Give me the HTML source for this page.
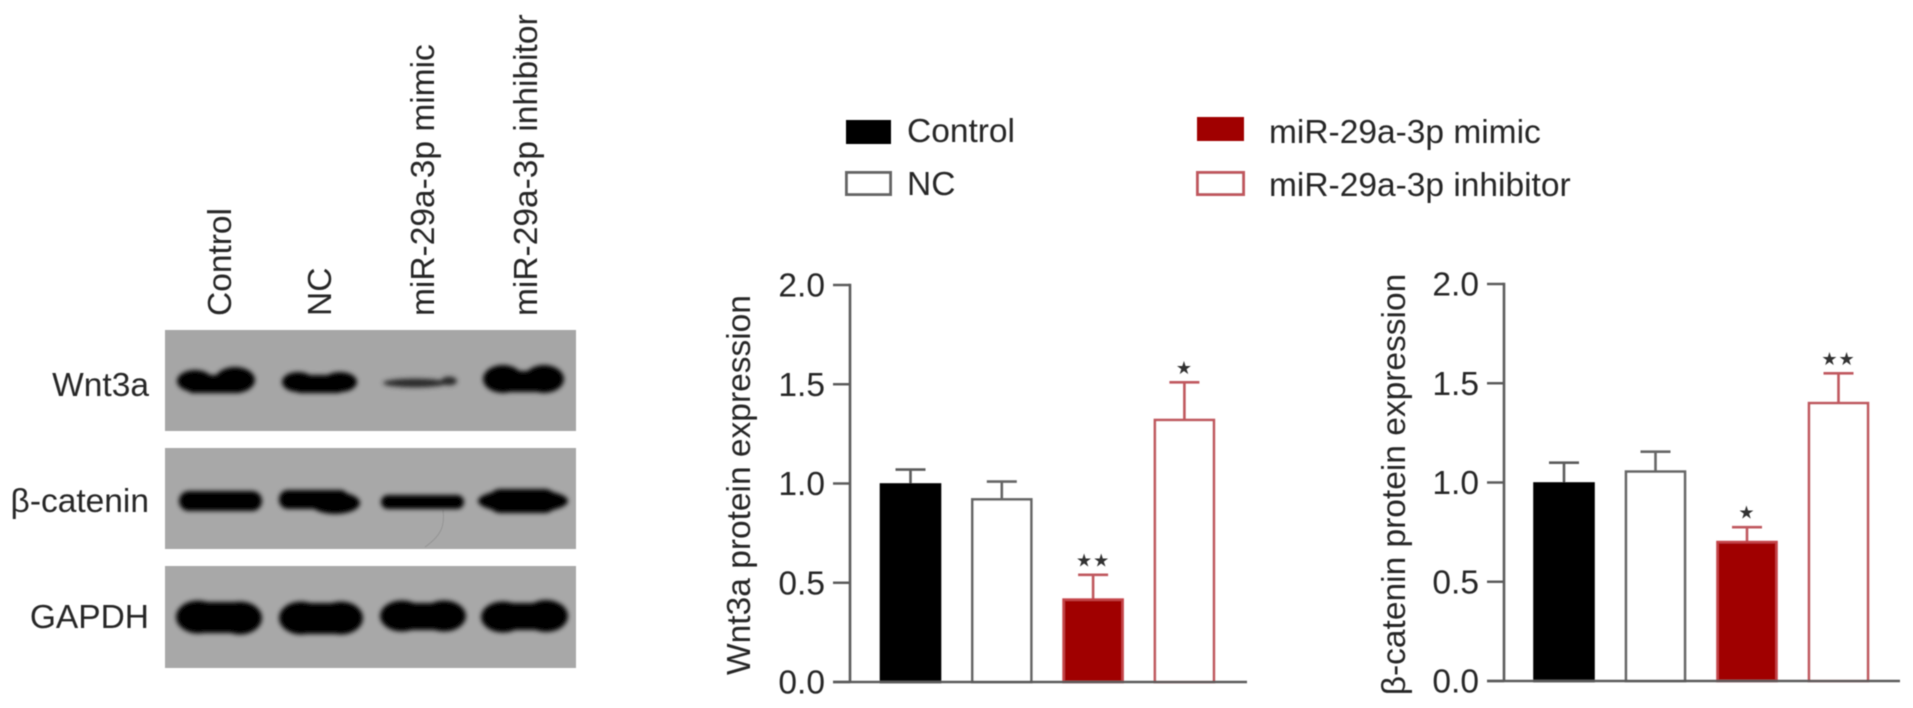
<!DOCTYPE html>
<html lang="en">
<head>
<meta charset="utf-8">
<title>Wnt3a and β-catenin protein expression</title>
<style>
  html, body { margin: 0; padding: 0; background: #fff; }
  svg { display: block; }
  text { font-family: "Liberation Sans", "DejaVu Sans", sans-serif; font-size: 33.5px; fill: #262626; }
</style>
</head>
<body>
<svg id="figure" width="1913" height="708" viewBox="0 0 1913 708" xmlns="http://www.w3.org/2000/svg">
  <defs>
    <filter id="soft" x="-5%" y="-5%" width="110%" height="110%"><feGaussianBlur stdDeviation="0.6"/></filter>
    <filter id="bandBlur" x="-20%" y="-50%" width="140%" height="200%"><feGaussianBlur stdDeviation="2.4"/></filter>
  </defs>
  <g id="root" filter="url(#soft)">
    <g>
      <text transform="translate(231 316) rotate(-90)">Control</text>
      <text transform="translate(331 316) rotate(-90)">NC</text>
      <text transform="translate(434 316) rotate(-90)">miR-29a-3p mimic</text>
      <text transform="translate(537 316) rotate(-90)">miR-29a-3p inhibitor</text>
    </g>
    <text x="149" y="396" text-anchor="end">Wnt3a</text>
    <text x="149" y="512" text-anchor="end">β-catenin</text>
    <text x="149" y="628" text-anchor="end">GAPDH</text>

    <rect x="165" y="330" width="411" height="101" fill="#a6a6a6"/>
    <rect x="165" y="448" width="411" height="101" fill="#a8a8a8"/>
    <rect x="165" y="566" width="411" height="102" fill="#a8a8a8"/>
    <path d="M443 510 C445 525 442 535 425 547" fill="none" stroke="#949494" stroke-width="1"/>

    <g fill="#050505" filter="url(#bandBlur)">
      <g><ellipse cx="195" cy="381" rx="18" ry="11"/><ellipse cx="235" cy="380" rx="20" ry="13"/><rect x="190" y="375" width="50" height="18"/></g>
      <g><ellipse cx="298" cy="382" rx="16" ry="10"/><ellipse cx="340" cy="382" rx="17" ry="10"/><rect x="298" y="375" width="42" height="18"/></g>
      <g fill="#2c2c2c"><ellipse cx="415" cy="383" rx="32" ry="4.5"/><ellipse cx="449" cy="381" rx="8" ry="4.5"/></g>
      <g><ellipse cx="503" cy="379" rx="20" ry="14"/><ellipse cx="544" cy="379" rx="20" ry="14"/><rect x="503" y="371" width="41" height="21"/></g>

      <rect x="179" y="491" width="83" height="20" rx="10"/>
      <g><rect x="279" y="490" width="70" height="19" rx="9"/><ellipse cx="335" cy="503" rx="25" ry="11"/></g>
      <rect x="381" y="495" width="83" height="14" rx="7"/>
      <g><ellipse cx="523" cy="501" rx="45" ry="12"/><rect x="489" y="489" width="67" height="24" rx="11"/></g>

      <g><ellipse cx="198" cy="617" rx="22" ry="16.5"/><ellipse cx="240" cy="618" rx="22" ry="16.5"/><rect x="198" y="602" width="42" height="31"/></g>
      <g><ellipse cx="301" cy="618" rx="22" ry="16.5"/><ellipse cx="341" cy="618" rx="22" ry="16.5"/><rect x="301" y="603" width="40" height="31"/></g>
      <g><ellipse cx="402" cy="616" rx="22" ry="15.5"/><ellipse cx="444" cy="616" rx="22" ry="15.5"/><rect x="402" y="603" width="42" height="27"/></g>
      <g><ellipse cx="503" cy="617" rx="22" ry="15.5"/><ellipse cx="546" cy="616" rx="22" ry="16"/><rect x="503" y="603" width="43" height="27"/></g>
    </g>

    <g>
      <rect x="846" y="120" width="45" height="24" fill="#000"/>
      <text x="907" y="142">Control</text>
      <rect x="846.5" y="172.5" width="44" height="22" fill="#fff" stroke="#666" stroke-width="3"/>
      <text x="907" y="195">NC</text>
      <rect x="1197" y="117" width="47" height="24" fill="#a00000"/>
      <text x="1269" y="143">miR-29a-3p mimic</text>
      <rect x="1197.5" y="172.5" width="46" height="22" fill="#fff" stroke="#c0585e" stroke-width="3"/>
      <text x="1269" y="196">miR-29a-3p inhibitor</text>
    </g>
    <g id="charts"></g>
  </g>
</svg>
<script>
const groups = ['Control', 'NC', 'miR-29a-3p mimic', 'miR-29a-3p inhibitor'];
const yTicks = [0, 0.5, 1, 1.5, 2];
const yTickLabels = ['0.0', '0.5', '1.0', '1.5', '2.0'];
const wntMeans = [0.995, 0.92, 0.415, 1.32];
const wntErrors = [0.075, 0.09, 0.125, 0.19];
const wntSignificance = ['', '', '**', '*'];
const betaMeans = [0.995, 1.055, 0.70, 1.40];
const betaErrors = [0.105, 0.10, 0.075, 0.15];
const betaSignificance = ['', '', '*', '**'];

const NS = 'http://www.w3.org/2000/svg';
const host = document.getElementById('charts');

function make(parent, tag, attrs, text) {
  const el = document.createElementNS(NS, tag);
  for (const k in attrs) el.setAttribute(k, attrs[k]);
  if (text !== undefined) el.textContent = text;
  parent.appendChild(el);
  return el;
}

const barStyles = [
  { fill: '#000000', stroke: '#000000', err: '#5c5c5c' },
  { fill: '#ffffff', stroke: '#666666', err: '#666666' },
  { fill: '#a00000', stroke: '#c4454a', err: '#c0585e' },
  { fill: '#ffffff', stroke: '#c0585e', err: '#c0585e' }
];

function drawChart(cfg) {
  const g = make(host, 'g', {});
  
  

  const y = v => cfg.y0 + (cfg.y2 - cfg.y0) * (v / 2);
  const x = i => cfg.x0 + cfg.step * i;
  const axis = '#5c5c5c';
  const barHalf = 29.5;
  const capHalf = 15;

  const title = make(g, 'text', { transform: 'translate(' + cfg.titleX + ' ' + cfg.titleY + ') rotate(-90)', 'text-anchor': 'middle' }, cfg.title);
  
  

  yTicks.forEach((t, i) => {
    const tick = make(g, 'line', { x1: cfg.axisX - 17, x2: cfg.axisX, y1: y(t), y2: y(t), stroke: axis, 'stroke-width': 2.6 });
    
    
    const label = make(g, 'text', { x: cfg.axisX - 25, y: y(t) + 11.5, 'text-anchor': 'end' }, yTickLabels[i]);
    
    
  });

  const yAxis = make(g, 'line', { x1: cfg.axisX, x2: cfg.axisX, y1: y(2) - 1.3, y2: y(0), stroke: axis, 'stroke-width': 2.6 });
  
  

  groups.forEach((name, i) => {
    const s = barStyles[i];
    const cx = x(i);
    const top = y(cfg.means[i]);
    const errTop = y(cfg.means[i] + cfg.errors[i]);

    const stem = make(g, 'line', { x1: cx, x2: cx, y1: top, y2: errTop, stroke: s.err, 'stroke-width': 2.6 });
    
    
    const cap = make(g, 'line', { x1: cx - capHalf, x2: cx + capHalf, y1: errTop, y2: errTop, stroke: s.err, 'stroke-width': 2.6 });
    
    

    const bar = make(g, 'rect', { x: cx - barHalf, y: top, width: barHalf * 2, height: y(0) - top, fill: s.fill, stroke: s.stroke, 'stroke-width': 2.6 });
    
    

    if (cfg.significance[i]) {
      const stars = cfg.significance[i].replace(/\*/g, '★');
      const sig = make(g, 'text', { x: cx, y: errTop - 8.5, 'text-anchor': 'middle', style: 'font-family:\'DejaVu Sans\',sans-serif;font-size:18px;letter-spacing:1px;fill:#333' }, stars);
      
      
    }
  });

  const xAxis = make(g, 'line', { x1: cfg.axisX - 17, x2: cfg.xEnd, y1: y(0), y2: y(0), stroke: axis, 'stroke-width': 2.6 });
  
  
}

drawChart({
  name: 'wnt3a-chart', title: 'Wnt3a protein expression', titleX: 750, titleY: 485,
  axisX: 850, y0: 682, y2: 285, x0: 910.5, step: 91.3, xEnd: 1247,
  means: wntMeans, errors: wntErrors, significance: wntSignificance
});
drawChart({
  name: 'beta-catenin-chart', title: 'β-catenin protein expression', titleX: 1405, titleY: 484.5,
  axisX: 1504, y0: 681, y2: 284, x0: 1564, step: 91.5, xEnd: 1900,
  means: betaMeans, errors: betaErrors, significance: betaSignificance
});
</script>
</body>
</html>
